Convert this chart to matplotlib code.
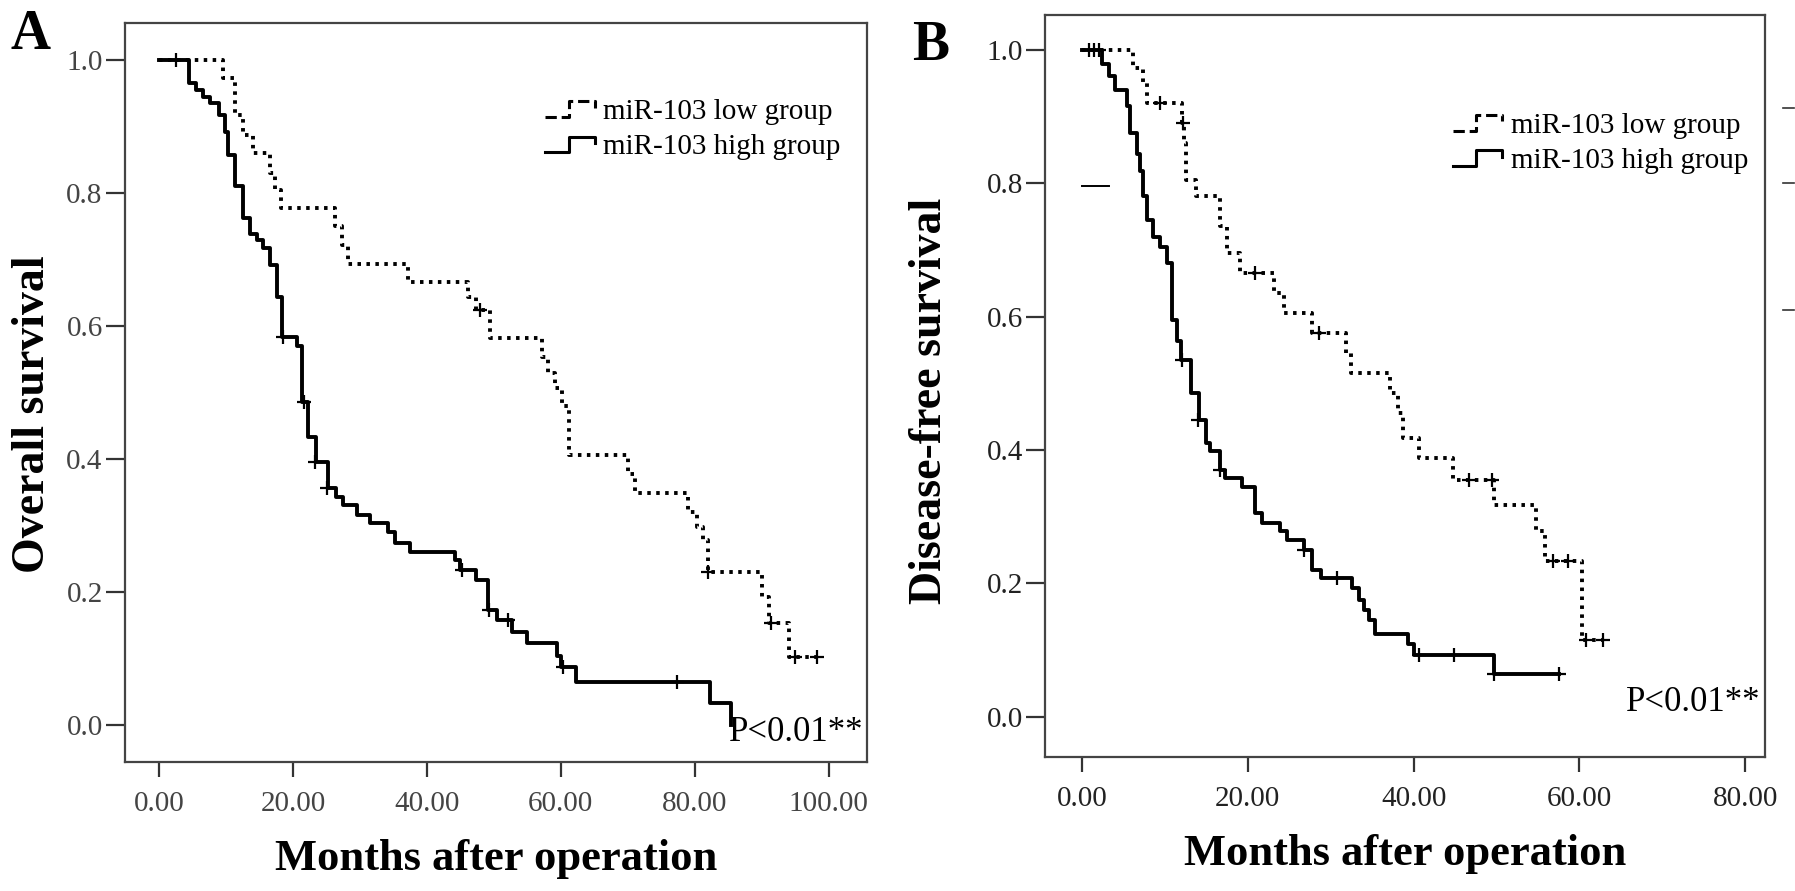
import matplotlib
matplotlib.use('Agg')
import matplotlib.pyplot as plt
from matplotlib.lines import Line2D
from matplotlib.legend_handler import HandlerBase
import numpy as np

plt.rcParams['font.family'] = ['Liberation Serif', 'DejaVu Serif']

# ---- Panel A: overall survival (months, survival proportion) ----
a_high_t = [0, 4.5, 5.6, 6.6, 7.6, 8.9, 9.9, 10.3, 11.3, 12.6, 13.6, 14.6, 15.6, 16.6,
            17.6, 18.4, 20.6, 21.3, 22.3, 23.5, 25.3, 26.5, 27.5, 29.5, 31.5, 34.2,
            35.2, 37.5, 44.2, 45.0, 47.3, 49.2, 50.4, 52.7, 55.0, 59.4, 60.0, 62.3,
            82.3, 85.4]
a_high_s = [1.0, 0.965, 0.955, 0.945, 0.935, 0.917, 0.892, 0.857, 0.81, 0.762, 0.739,
            0.729, 0.717, 0.692, 0.644, 0.584, 0.57, 0.486, 0.433, 0.395, 0.356, 0.343,
            0.331, 0.316, 0.304, 0.29, 0.274, 0.26, 0.248, 0.233, 0.218, 0.173, 0.158,
            0.14, 0.123, 0.104, 0.087, 0.065, 0.033, 0.0]
a_high_cens_t = [2.5, 18.6, 21.6, 23.3, 25.1, 45.3, 49.3, 52.1, 60.3, 77.3]
a_high_cens_s = [1.0, 0.584, 0.486, 0.395, 0.356, 0.233, 0.173, 0.158, 0.087, 0.065]

a_low_t = [0, 9.6, 11.3, 12.5, 14.0, 16.6, 17.3, 18.3, 26.3, 27.3, 28.2, 37.2, 46.2,
           47.4, 49.4, 57.2, 58.1, 59.1, 60.1, 61.2, 70.0, 71.0, 79.0, 80.3, 81.2,
           81.9, 90.1, 91.0, 94.0, 98.2]
a_low_s = [1.0, 0.973, 0.917, 0.887, 0.86, 0.83, 0.805, 0.777, 0.75, 0.722, 0.694,
           0.666, 0.644, 0.624, 0.582, 0.553, 0.53, 0.506, 0.48, 0.406, 0.377, 0.349,
           0.32, 0.298, 0.278, 0.23, 0.192, 0.153, 0.102, 0.102]
a_low_cens_t = [48.0, 82.0, 91.3, 95.0, 98.2]
a_low_cens_s = [0.624, 0.23, 0.153, 0.102, 0.102]

# ---- Panel B: disease-free survival ----
b_high_t = [0, 2.4, 3.2, 4.0, 5.4, 5.8, 6.6, 7.0, 7.4, 7.8, 8.6, 9.4, 10.2, 10.8, 11.4,
            12.0, 13.1, 14.1, 14.9, 15.5, 16.7, 17.3, 19.3, 20.9, 21.7, 23.9, 24.7,
            26.8, 27.8, 28.8, 32.6, 33.4, 34.0, 34.6, 35.4, 39.3, 40.1, 49.7, 57.6]
b_high_s = [1.0, 0.978, 0.96, 0.94, 0.915, 0.875, 0.843, 0.818, 0.78, 0.745, 0.72,
            0.705, 0.68, 0.595, 0.563, 0.535, 0.486, 0.445, 0.41, 0.398, 0.37, 0.358,
            0.345, 0.305, 0.29, 0.278, 0.265, 0.25, 0.22, 0.208, 0.193, 0.175, 0.16,
            0.145, 0.125, 0.11, 0.093, 0.065, 0.065]
b_high_cens_t = [0.8, 2.0, 12.1, 14.0, 16.7, 26.8, 30.8, 40.7, 44.9, 49.7, 57.6]
b_high_cens_s = [1.0, 1.0, 0.535, 0.445, 0.37, 0.25, 0.208, 0.093, 0.093, 0.065, 0.065]

b_low_t = [0, 6.2, 7.4, 7.8, 12.1, 12.3, 12.5, 13.7, 16.7, 17.5, 19.1, 23.2, 24.4, 27.8,
           31.9, 32.5, 37.2, 38.1, 38.7, 40.7, 44.7, 49.7, 54.8, 55.8, 60.3, 62.8]
b_low_s = [1.0, 0.973, 0.95, 0.92, 0.89, 0.86, 0.805, 0.78, 0.735, 0.695, 0.665, 0.635,
           0.605, 0.575, 0.545, 0.515, 0.486, 0.455, 0.418, 0.388, 0.355, 0.318, 0.278,
           0.233, 0.116, 0.116]
b_low_cens_t = [1.5, 9.4, 12.2, 20.9, 28.6, 46.7, 49.5, 56.8, 58.6, 60.8, 62.8]
b_low_cens_s = [1.0, 0.92, 0.89, 0.665, 0.575, 0.355, 0.355, 0.233, 0.233, 0.116, 0.116]

legend_labels = ['miR-103 low group', 'miR-103 high group']
p_text = 'P<0.01**'

DOT = (0, (0.9, 1.4))
LW = 2.8


class StepHandler(HandlerBase):
    """small Kaplan-Meier style step icon, like the SPSS legend"""
    def create_artists(self, legend, orig_handle, xdescent, ydescent,
                       width, height, fontsize, trans):
        xs = np.array([0.0, 0.45, 0.45, 0.95, 0.95]) * width - xdescent
        ys = np.array([0.1, 0.1, 0.85, 0.85, 0.55]) * height - ydescent
        ln = Line2D(xs, ys, color='black', lw=2.2,
                    linestyle=orig_handle.get_linestyle())
        ln.set_transform(trans)
        return [ln]


def style_axes(ax, xmax_tick, xlim, ylim, tick_color):
    ax.set_xlim(*xlim)
    ax.set_ylim(*ylim)
    ax.set_xticks(np.arange(0, xmax_tick + 1, 20))
    ax.set_xticklabels([f'{v:.2f}' for v in np.arange(0, xmax_tick + 1, 20)])
    ax.set_yticks(np.arange(0, 1.01, 0.2))
    ax.set_yticklabels([f'{v:.1f}' for v in np.arange(0, 1.01, 0.2)])
    ax.tick_params(axis='x', length=11, width=1.6, pad=10, labelsize=21,
                   colors='#333333', direction='out')
    ax.tick_params(axis='y', length=14, width=1.6, pad=2, labelsize=21,
                   colors='#333333', direction='out')
    for lab in ax.get_xticklabels() + ax.get_yticklabels():
        lab.set_color(tick_color)
    for sp in ax.spines.values():
        sp.set_linewidth(1.6)
        sp.set_color('#444444')


def draw_km(ax, t_low, s_low, cl_t, cl_s, t_high, s_high, ch_t, ch_s):
    l1, = ax.step(t_low, s_low, where='post', color='black', lw=LW, linestyle=DOT,
                  dash_capstyle='butt')
    l2, = ax.step(t_high, s_high, where='post', color='black', lw=LW, linestyle='-')
    ax.plot(cl_t, cl_s, linestyle='none', marker='+', ms=10, mew=1.6, color='black')
    ax.plot(ch_t, ch_s, linestyle='none', marker='+', ms=10, mew=1.6, color='black')
    return l1, l2


fig = plt.figure(figsize=(17.95, 8.91), dpi=100)
axA = fig.add_axes([0.0696, 0.1448, 0.4134, 0.8294])
axB = fig.add_axes([0.5822, 0.1504, 0.4011, 0.8328])

leg_kw = dict(handler_map={Line2D: StepHandler()}, loc='upper left', frameon=False,
              fontsize=21, handlelength=1.8, handletextpad=0.2, labelspacing=0.3,
              borderpad=0, borderaxespad=0)

# === A ===
lA1, lA2 = draw_km(axA, a_low_t, a_low_s, a_low_cens_t, a_low_cens_s,
                   a_high_t, a_high_s, a_high_cens_t, a_high_cens_s)
style_axes(axA, 100, (-5.07, 105.7), (-0.056, 1.056), '#444444')
axA.set_xlabel('Months after operation', fontsize=32, fontweight='bold', labelpad=16)
axA.set_ylabel('Overall survival', fontsize=33, fontweight='bold')
axA.yaxis.set_label_coords(-0.095, 0.47)
axA.legend([lA1, lA2], legend_labels, bbox_to_anchor=(0.566, 0.898), **leg_kw)
axA.text(105.2, -0.012, p_text, ha='right', va='center', fontsize=25)

# === B ===
lB1, lB2 = draw_km(axB, b_low_t, b_low_s, b_low_cens_t, b_low_cens_s,
                   b_high_t, b_high_s, b_high_cens_t, b_high_cens_s)
style_axes(axB, 80, (-4.46, 82.4), (-0.06, 1.052), '#222222')
axB.set_xlabel('Months after operation', fontsize=32, fontweight='bold', labelpad=16)
axB.set_ylabel('Disease-free survival', fontsize=33, fontweight='bold')
axB.yaxis.set_label_coords(-0.13, 0.48)
axB.legend([lB1, lB2], legend_labels, bbox_to_anchor=(0.566, 0.869), **leg_kw)
axB.text(81.8, 0.021, p_text, ha='right', va='center', fontsize=25)

# stray marks from the original scan
axB.plot([0.0, 3.3], [0.795, 0.795], color='black', lw=1.4)
stray_y = [0.61, 0.80, 0.913]
for yv in stray_y:
    axB.plot([1.025, 1.04], [yv, yv], color='#333333', lw=1.2,
             transform=axB.get_yaxis_transform(), clip_on=False)

# panel letters
fig.text(0.006, 0.99, 'A', fontsize=40, fontweight='bold', va='top', ha='left')
fig.text(0.508, 0.978, 'B', fontsize=40, fontweight='bold', va='top', ha='left')

fig.savefig('out.png', dpi=100, facecolor='white')
